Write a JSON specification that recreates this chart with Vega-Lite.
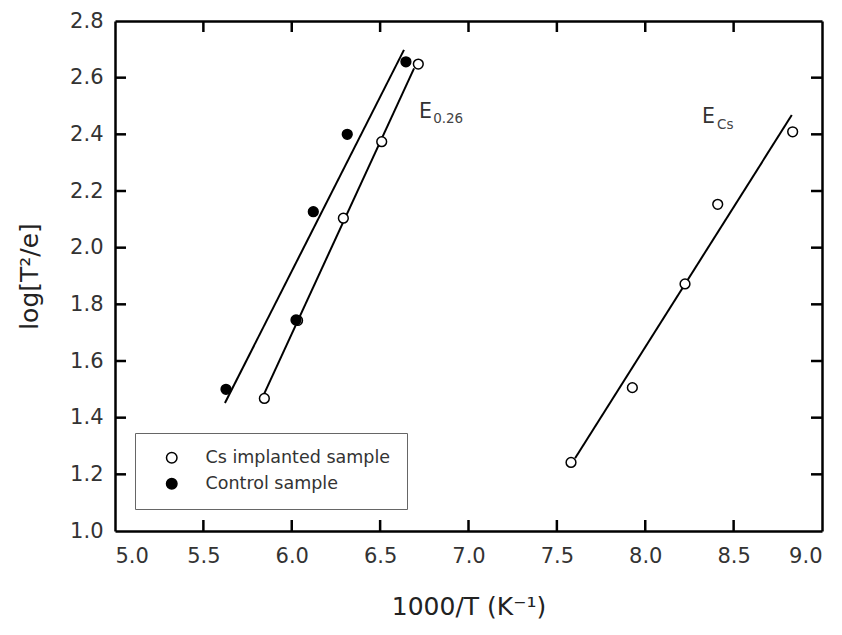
{
  "$schema": "https://vega.github.io/schema/vega-lite/v6.json",
  "width": 707,
  "height": 510,
  "autosize": {"type": "none"},
  "padding": {"left": 115, "top": 21, "right": 20, "bottom": 104},
  "background": "white",
  "config": {
    "view": {"stroke": null},
    "font": "DejaVu Sans",
    "axis": {
      "grid": false,
      "domainColor": "black",
      "domainWidth": 2.5,
      "labelFont": "DejaVu Sans",
      "labelFontSize": 21,
      "labelColor": "#333",
      "titleFont": "DejaVu Sans",
      "titleFontSize": 25,
      "titleFontWeight": "normal",
      "titleColor": "#222"
    },
    "legend": {
      "labelFont": "DejaVu Sans",
      "labelFontSize": 17.5,
      "labelColor": "#333",
      "labelLimit": 400
    }
  },
  "datasets": {
    "points": [
      {"sample": "Cs implanted sample", "x": 5.845, "y": 1.468},
      {"sample": "Cs implanted sample", "x": 6.033, "y": 1.743},
      {"sample": "Cs implanted sample", "x": 6.292, "y": 2.104},
      {"sample": "Cs implanted sample", "x": 6.509, "y": 2.374},
      {"sample": "Cs implanted sample", "x": 6.716, "y": 2.648},
      {"sample": "Cs implanted sample", "x": 7.580, "y": 1.242},
      {"sample": "Cs implanted sample", "x": 7.927, "y": 1.506},
      {"sample": "Cs implanted sample", "x": 8.225, "y": 1.872},
      {"sample": "Cs implanted sample", "x": 8.410, "y": 2.153},
      {"sample": "Cs implanted sample", "x": 8.834, "y": 2.409},
      {"sample": "Control sample", "x": 5.628, "y": 1.500},
      {"sample": "Control sample", "x": 6.024, "y": 1.745},
      {"sample": "Control sample", "x": 6.122, "y": 2.127},
      {"sample": "Control sample", "x": 6.314, "y": 2.400},
      {"sample": "Control sample", "x": 6.646, "y": 2.656}
    ],
    "lines": [
      {"fit": "control", "x": 5.622, "y": 1.452},
      {"fit": "control", "x": 6.635, "y": 2.698},
      {"fit": "cs_low", "x": 5.845, "y": 1.486},
      {"fit": "cs_low", "x": 6.692, "y": 2.633},
      {"fit": "cs_high", "x": 7.603, "y": 1.257},
      {"fit": "cs_high", "x": 8.829, "y": 2.468}
    ],
    "mainText": [
      {"label": "E", "x": 6.720, "y": 2.458},
      {"label": "E", "x": 8.321, "y": 2.440}
    ],
    "subText": [
      {"label": "0.26", "x": 6.800, "y": 2.440},
      {"label": "Cs", "x": 8.406, "y": 2.419}
    ],
    "xticks": [{"v": 5.5}, {"v": 6}, {"v": 6.5}, {"v": 7}, {"v": 7.5}, {"v": 8}, {"v": 8.5}],
    "yticks": [{"v": 1.2}, {"v": 1.4}, {"v": 1.6}, {"v": 1.8}, {"v": 2}, {"v": 2.2}, {"v": 2.4}, {"v": 2.6}]
  },
  "layer": [
    {
      "data": {"name": "lines"},
      "mark": {"type": "line", "color": "black", "strokeWidth": 2},
      "encoding": {
        "x": {
          "field": "x", "type": "quantitative",
          "scale": {"domain": [5, 9], "nice": false, "zero": false, "padding": 0},
          "axis": {
            "orient": "bottom",
            "values": [5, 5.5, 6, 6.5, 7, 7.5, 8, 8.5, 9],
            "format": ".1f",
            "ticks": false,
            "labelPadding": 14,
            "title": "1000/T (K⁻¹)",
            "titlePadding": 28
          }
        },
        "y": {
          "field": "y", "type": "quantitative",
          "scale": {"domain": [1, 2.8], "nice": false, "zero": false, "padding": 0},
          "axis": {
            "orient": "left",
            "values": [1, 1.2, 1.4, 1.6, 1.8, 2, 2.2, 2.4, 2.6, 2.8],
            "format": ".1f",
            "ticks": false,
            "labelPadding": 12,
            "title": "log[T²/e]",
            "titlePadding": 27
          }
        },
        "detail": {"field": "fit"}
      }
    },
    {
      "data": {"name": "xticks"},
      "mark": {"type": "bar", "orient": "vertical", "color": "black", "size": 2.5},
      "encoding": {
        "x": {"field": "v", "type": "quantitative", "axis": null},
        "y": {"datum": 1, "type": "quantitative", "axis": null},
        "y2": {"datum": 1.0388}
      }
    },
    {
      "data": {"name": "xticks"},
      "mark": {"type": "bar", "orient": "vertical", "color": "black", "size": 2.5},
      "encoding": {
        "x": {"field": "v", "type": "quantitative", "axis": null},
        "y": {"datum": 2.7612, "type": "quantitative", "axis": null},
        "y2": {"datum": 2.8}
      }
    },
    {
      "data": {"name": "yticks"},
      "mark": {"type": "bar", "orient": "horizontal", "color": "black", "size": 2.5},
      "encoding": {
        "y": {"field": "v", "type": "quantitative", "axis": null},
        "x": {"datum": 5, "type": "quantitative", "axis": null},
        "x2": {"datum": 5.0622}
      }
    },
    {
      "data": {"name": "yticks"},
      "mark": {"type": "bar", "orient": "horizontal", "color": "black", "size": 2.5},
      "encoding": {
        "y": {"field": "v", "type": "quantitative", "axis": null},
        "x": {"datum": 8.9378, "type": "quantitative", "axis": null},
        "x2": {"datum": 9}
      }
    },
    {
      "data": {"name": "points"},
      "mark": {"type": "point", "shape": "circle", "filled": true, "stroke": "black", "strokeWidth": 1.5, "size": 95, "opacity": 1},
      "encoding": {
        "x": {
          "field": "x", "type": "quantitative",
          "axis": {"orient": "top", "ticks": false, "labels": false, "title": null}
        },
        "y": {
          "field": "y", "type": "quantitative",
          "axis": {"orient": "right", "ticks": false, "labels": false, "title": null}
        },
        "fill": {
          "field": "sample", "type": "nominal",
          "scale": {"domain": ["Cs implanted sample", "Control sample"], "range": ["white", "black"]},
          "legend": {
            "title": null,
            "orient": "none",
            "legendX": 20,
            "legendY": 412,
            "padding": 16,
            "strokeColor": "#666",
            "symbolType": "circle",
            "symbolSize": 110,
            "symbolStrokeColor": "black",
            "symbolStrokeWidth": 1.5,
            "symbolOffset": 12,
            "labelOffset": 25,
            "rowPadding": 7
          }
        }
      }
    },
    {
      "data": {"name": "mainText"},
      "mark": {"type": "text", "align": "left", "baseline": "alphabetic", "fontSize": 20.5, "color": "#333"},
      "encoding": {
        "x": {"field": "x", "type": "quantitative", "axis": null},
        "y": {"field": "y", "type": "quantitative", "axis": null},
        "text": {"field": "label"}
      }
    },
    {
      "data": {"name": "subText"},
      "mark": {"type": "text", "align": "left", "baseline": "alphabetic", "fontSize": 13.5, "color": "#444"},
      "encoding": {
        "x": {"field": "x", "type": "quantitative", "axis": null},
        "y": {"field": "y", "type": "quantitative", "axis": null},
        "text": {"field": "label"}
      }
    }
  ],
  "resolve": {"axis": {"x": "independent", "y": "independent"}}
}
